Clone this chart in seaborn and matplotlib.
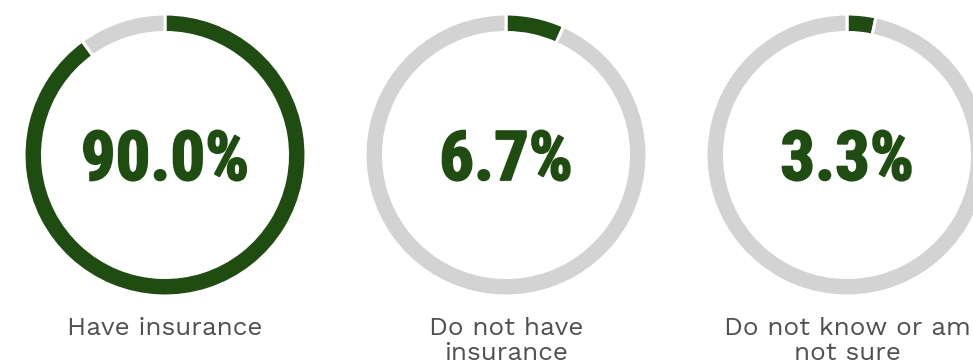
import matplotlib
matplotlib.use("Agg")
import matplotlib.pyplot as plt
import matplotlib.patheffects as pe
import seaborn as sns

# ---- data ----
categories = ["Have insurance", "Do not have\ninsurance", "Do not know or am\nnot sure"]
values = [90.0, 6.7, 3.3]
value_labels = ["90.0%", "6.7%", "3.3%"]

GREEN = "#1f4c10"
GRAY = "#d3d3d3"
TEXT_GRAY = "#505050"

sns.set_theme(style="white")
plt.rcParams["font.family"] = ["Work Sans", "DejaVu Sans"]

W, H = 973, 364
fig = plt.figure(figsize=(W / 100, H / 100), dpi=100)
fig.patch.set_facecolor("white")

centers_x = [165, 506, 847]
cy = 155
R = 141  # outer radius in px
ring_w = 18.5 / R

for i, (cat, val, lab) in enumerate(zip(categories, values, value_labels)):
    cx = centers_x[i]
    ax = fig.add_axes([(cx - R) / W, (H - cy - R) / H, 2 * R / W, 2 * R / H])
    ax.pie([val, 100 - val], colors=[GREEN, GRAY], startangle=90, counterclock=False,
           radius=1.0, wedgeprops=dict(width=ring_w, edgecolor="white", linewidth=2.2))
    ax.set_xlim(-1, 1)
    ax.set_ylim(-1, 1)
    ax.set_aspect("equal")
    ax.axis("off")
    ax.text(0, -(180 - cy) / R, lab, ha="center", va="baseline", color=GREEN,
            fontsize=49.5, fontweight="bold", family=["Roboto Condensed", "DejaVu Sans"],
            path_effects=[pe.withStroke(linewidth=1.3, foreground=GREEN)])
    fig.text(cx / W, (H - 317) / H, cat, ha="center", va="top", color=TEXT_GRAY,
             fontsize=18.8, fontweight="normal", linespacing=1.12,
             family=["Work Sans", "DejaVu Sans"])

fig.savefig("out.png", dpi=100, facecolor="white")
